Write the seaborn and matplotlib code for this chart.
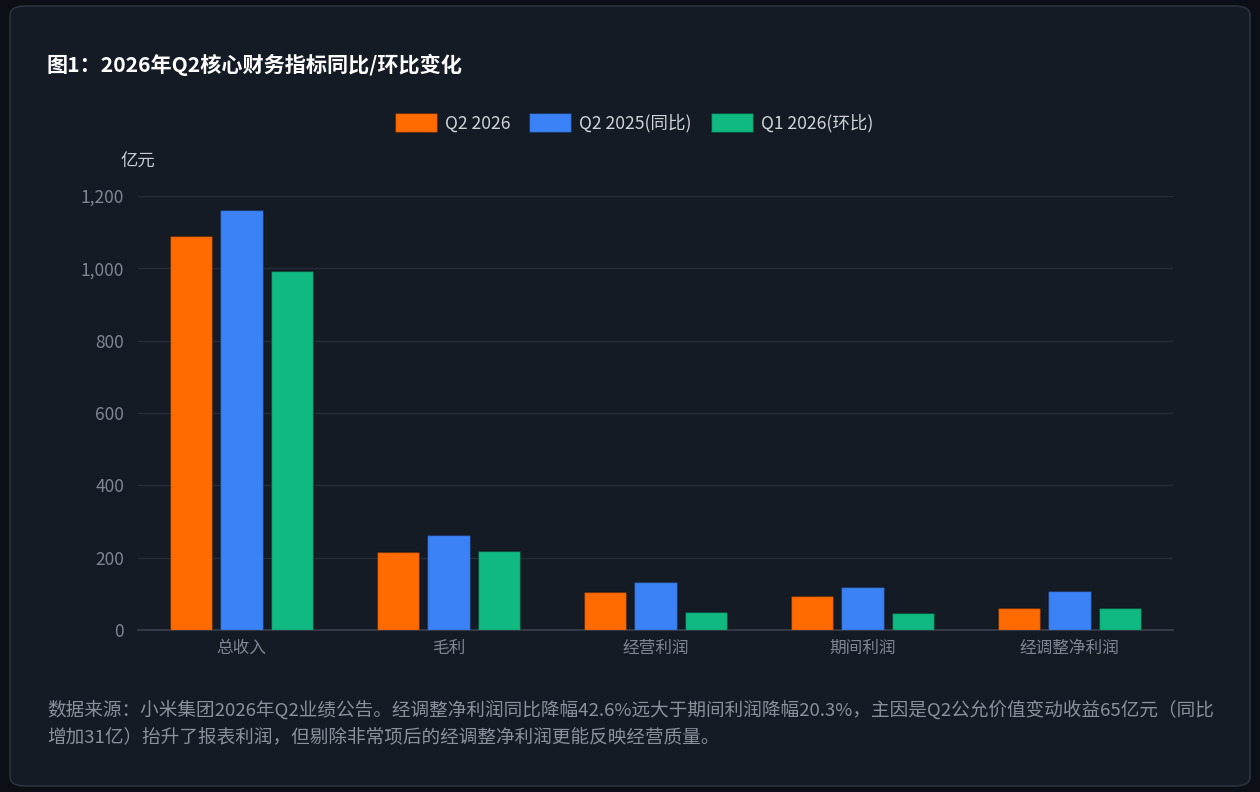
import pandas as pd
import matplotlib.pyplot as plt
import seaborn as sns
from matplotlib.patches import FancyBboxPatch, Patch
from matplotlib.ticker import FuncFormatter, FixedLocator

# Chart data (亿元)
categories = ["总收入", "毛利", "经营利润", "期间利润", "经调整净利润"]
q2_2026 = [1089, 216, 106, 94, 61]
q2_2025 = [1160, 262, 132, 118, 107]
q1_2026 = [992, 218, 51, 46, 60]
series_names = ["Q2 2026", "Q2 2025(同比)", "Q1 2026(环比)"]
colors = ["#ff6b00", "#3b82f6", "#10b981"]

title = "图1：2026年Q2核心财务指标同比/环比变化"
note = ("数据来源：小米集团2026年Q2业绩公告。经调整净利润同比降幅42.6%远大于期间利润降幅20.3%，"
        "主因是Q2公允价值变动收益65亿元（同比\n增加31亿）抬升了报表利润，但剔除非常项后的经调整净利润更能反映经营质量。")

# Long format table for seaborn
rows = []
for name, values in zip(series_names, [q2_2026, q2_2025, q1_2026]):
    for cat, v in zip(categories, values):
        rows.append({"指标": cat, "期间": name, "值": v})
df = pd.DataFrame(rows)

sns.set_theme(style="dark")
plt.rcParams["font.family"] = ["Noto Sans CJK SC", "DejaVu Sans"]

bg_outer = "#0c1016"
bg_card = "#151b25"
grid_c = "#262d39"
tick_c = "#7f8794"

fig = plt.figure(figsize=(12.6, 7.92), dpi=100, facecolor=bg_outer)

# Card background
card = FancyBboxPatch((10 / 1260, 6 / 792), 1240 / 1260, 780 / 792,
                      boxstyle="round,pad=0,rounding_size=0.012",
                      transform=fig.transFigure, facecolor=bg_card,
                      edgecolor="#2b323d", linewidth=1.2, zorder=-10)
fig.patches.append(card)

ax = fig.add_axes([138 / 1260, 1 - 630 / 792, (1173 - 138) / 1260, (630 - 196) / 792])
ax.set_facecolor("none")
ax.set_zorder(2)

sns.barplot(data=df, x="指标", y="值", hue="期间", palette=colors, saturation=1,
            width=0.725, gap=0.16, ax=ax, legend=False,
            edgecolor=(0, 0, 0, 0.25), linewidth=1, zorder=3)

ax.set_ylim(0, 1200)
ax.set_xlim(-0.5, len(categories) - 0.5)
ax.set_yticks(range(0, 1201, 200))
ax.yaxis.set_major_formatter(FuncFormatter(lambda v, p: f"{int(v):,}"))
ax.grid(axis="y", color=grid_c, linewidth=1, zorder=0)
ax.grid(axis="x", visible=False)
ax.set_axisbelow(True)
ax.set_xlabel("")
ax.set_ylabel("")

for s in ["top", "right", "left"]:
    ax.spines[s].set_visible(False)
ax.spines["bottom"].set_color("#3a414d")
ax.spines["bottom"].set_linewidth(1.2)

ax.tick_params(axis="y", length=0, pad=10, labelsize=12.5, labelcolor=tick_c)
ax.tick_params(axis="x", which="major", length=0, pad=7, labelsize=12, labelcolor=tick_c)
ax.xaxis.set_minor_locator(FixedLocator([i - 0.5 for i in range(len(categories) + 1)]))
ax.tick_params(axis="x", which="minor", length=5, width=1.2, color="#3a414d", direction="out")

# Title, unit and note
fig.text(47 / 1260, 1 - 65 / 792, title, color="white", fontsize=15.2,
         fontweight="bold", va="center", ha="left")
fig.text(121 / 1260, 1 - 162 / 792, "亿元", color="#c8cdd5", fontsize=12.5,
         va="center", ha="left")
fig.text(47 / 1260, 1 - 723 / 792, note, color="#8a919d", fontsize=13.4,
         va="center", ha="left", linespacing=1.6)

# Legend
handles = [Patch(facecolor=c, edgecolor=(0, 0, 0, 0.25), label=n)
           for c, n in zip(colors, series_names)]
leg = fig.legend(handles=handles, loc="center", bbox_to_anchor=(634 / 1260, 1 - 123 / 792),
                 ncol=3, frameon=False, fontsize=12.6, handlelength=2.4, handleheight=1.25,
                 handletextpad=0.45, columnspacing=1.1)
for t in leg.get_texts():
    t.set_color("#d0d4da")

fig.savefig("out.png", dpi=100, facecolor=bg_outer)
